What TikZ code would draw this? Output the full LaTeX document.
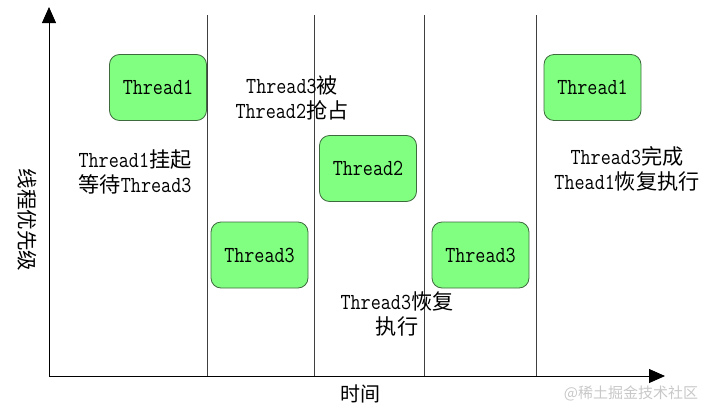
\documentclass[tikz,border=0pt]{standalone}
\usepackage{fontspec}
\usetikzlibrary{arrows.meta}
\newfontfamily\cjk{Noto Sans CJK SC}[Scale=0.92]
\newfontfamily\cjkplain{Noto Sans CJK SC}
\newfontfamily\monotall{Latin Modern Mono}[FakeStretch=0.85]
\definecolor{boxfill}{HTML}{80FF80}
\definecolor{boxline}{HTML}{3E6B3E}
\definecolor{axisline}{HTML}{404040}
\definecolor{wmark}{HTML}{C8C8C8}
\newcommand{\mytxt}{\monotall\fontsize{23}{25}\selectfont}
\tikzset{
  threadbox/.style={draw=boxline, fill=boxfill, rounded corners=10pt, line width=0.8pt,
    minimum width=97pt, minimum height=66pt, inner sep=0pt, font=\mytxt},
  divider/.style={draw=axisline, line width=0.7pt},
  axisarrow/.style={draw=black, line width=0.8pt, -{Triangle[length=16pt,width=14pt]}},
  note/.style={font=\mytxt, align=center, inner sep=0pt, text depth=0pt}
}
\begin{document}
\begin{tikzpicture}[x=1pt,y=-1pt]
\useasboundingbox (0,0) rectangle (720,415);
% dividers
\coordinate (v1t) at (207,15); \coordinate (v1b) at (207,376);
\coordinate (v2t) at (314,15); \coordinate (v2b) at (314,376);
\coordinate (v3t) at (424.5,15); \coordinate (v3b) at (424.5,376);
\coordinate (v4t) at (536,15); \coordinate (v4b) at (536,376);
\draw[divider] (v1t) -- (v1b);
\draw[divider] (v2t) -- (v2b);
\draw[divider] (v3t) -- (v3b);
\draw[divider] (v4t) -- (v4b);
% axes
\coordinate (o) at (49,376);
\coordinate (ytip) at (49,7);
\coordinate (xtip) at (665,376);
\draw[axisarrow] (o) -- (ytip);
\draw[axisarrow] (o) -- (xtip);
% boxes
\node[threadbox] (t1a) at (158,87.5) {Thread1};
\node[threadbox] (t3a) at (259.5,255) {Thread3};
\node[threadbox] (t2) at (368,168.5) {Thread2};
\node[threadbox] (t3b) at (480.5,255) {Thread3};
\node[threadbox] (t1b) at (592.5,87.5) {Thread1};
% notes
\node[note] (n1) at (135,171) {Thread1{\cjk 挂起}\\{\cjk 等待}Thread3};
\node[note] (n2) at (292,97) {Thread3{\cjk 被}\\Thread2{\cjk 抢占}};
\node[note] (n3) at (397,313.5) {Thread3{\cjk 恢复}\\{\cjk 执行}};
\node[note] (n4) at (627,168.5) {Thread3{\cjk 完成}\\Thead1{\cjk 恢复执行}};
% axis labels
\node[font=\cjkplain\fontsize{20}{22}\selectfont, inner sep=0pt] (xl) at (360,394) {时间};
\node[font=\cjkplain\fontsize{20.5}{22}\selectfont, inner sep=0pt, rotate=-90] (yl) at (27,220) {线程优先级};
% watermark
\node[font=\cjkplain\fontsize{15}{16}\selectfont, text=wmark, inner sep=0pt] (wm) at (631,393) {@稀土掘金技术社区};
\end{tikzpicture}
\end{document}
